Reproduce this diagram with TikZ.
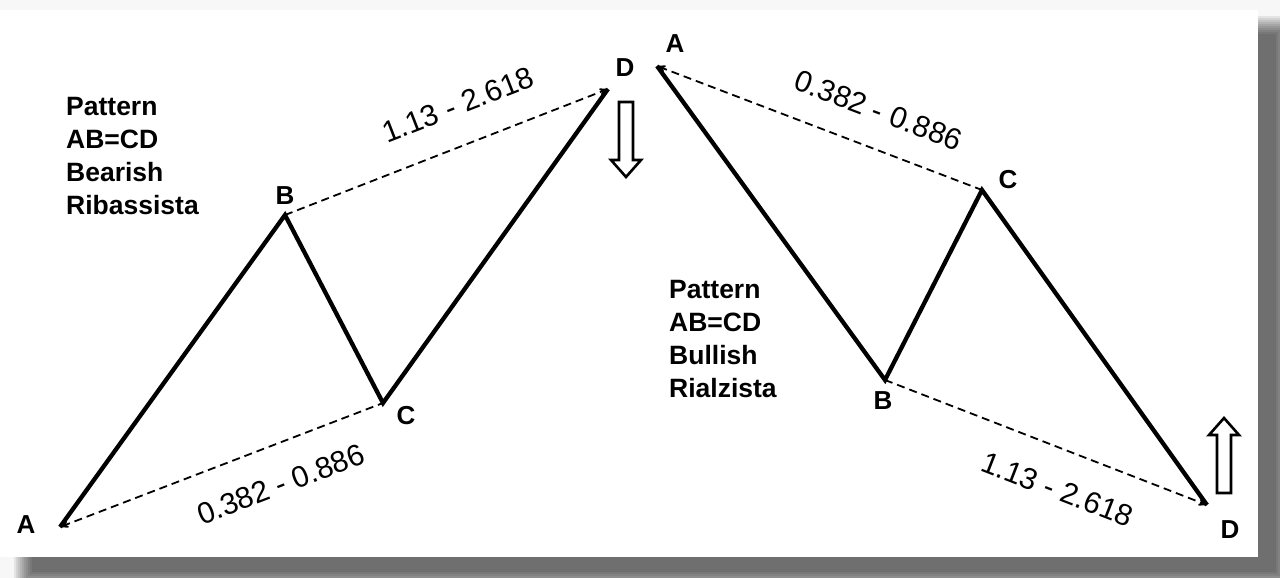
\documentclass[tikz,border=0pt]{standalone}
\usepackage{fontspec}
\setmainfont{Liberation Sans}
\usetikzlibrary{arrows,positioning}

\begin{document}
\begin{tikzpicture}[x=1pt,y=-1pt,>=stealth',
  pt/.style={font=\fontsize{26}{26}\selectfont\bfseries,inner sep=0pt},
  info/.style={font=\fontsize{26.5}{33}\selectfont\bfseries,align=left,anchor=north west,inner sep=0pt},
  ratio/.style={font=\fontsize{30}{30}\selectfont,sloped,inner sep=0pt},
  leg/.style={line width=4.3pt},
  fib/.style={line width=1.8pt,dash pattern=on 8pt off 5pt},
  hollow/.style={line width=2.6pt,line join=miter,fill=white},
  pics/bigarrow/.style={code={
    \draw[hollow] (-7,-75) -- (7,-75) -- (7,-17) -- (15,-17) -- (0,0) -- (-15,-17) -- (-7,-17) -- cycle;}}]

    \useasboundingbox (0,0) rectangle (1280,578);

    % The frame
    \fill[gray!6] (0,0) rectangle (1280,578);
    \foreach \i in {0,...,9}
      \fill[black,opacity=0.075] (14+2*\i,16+2*\i) rectangle (1294-2*\i,590-2*\i);
    \fill[white] (0,10) rectangle (1258,557);

    % The turning points
    \coordinate (A1) at (60,527);
    \coordinate (B1) at (285,215);
    \coordinate (C1) at (383,403);
    \coordinate (D1) at (608,89);
    \coordinate (A2) at (657,66);
    \coordinate (B2) at (885,380);
    \coordinate (C2) at (982,190);
    \coordinate (D2) at (1207,505);

    \node [pt] at (26,525) (lA1) {A};
    \node [pt] at (285,196) (lB1) {B};
    \node [pt] at (406,416) (lC1) {C};
    \node [pt] at (625,68) (lD1) {D};
    \node [pt] at (675,44) (lA2) {A};
    \node [pt] at (883,401) (lB2) {B};
    \node [pt] at (1008,180) (lC2) {C};
    \node [pt] at (1230,530) (lD2) {D};

    \node [info] at (66,97) (bear) {Pattern\\AB=CD\\Bearish\\Ribassista};
    \node [info] at (669,280) (bull) {Pattern\\AB=CD\\Bullish\\Rialzista};

    % The legs
    \draw[leg] (A1) -- (B1) -- (C1) -- (D1);
    \draw[leg] (A2) -- (B2) -- (C2) -- (D2);

    % Ratios
    \path[fib]
    (A1) edge[<-] node[ratio,below=28pt,pos=0.64] {0.382 - 0.886} (C1)
    (B1) edge[->] node[ratio,above=28pt,pos=0.58] {1.13 - 2.618} (D1)
    (A2) edge[<-] node[ratio,above=26pt,pos=0.64] {0.382 - 0.886} (C2)
    (B2) edge[->] node[ratio,below=28pt,pos=0.58] {1.13 - 2.618} (D2);

    % Direction
    \pic at (626,177) {bigarrow};
    \pic[rotate=180] at (1224,418) {bigarrow};
\end{tikzpicture}
\end{document}
